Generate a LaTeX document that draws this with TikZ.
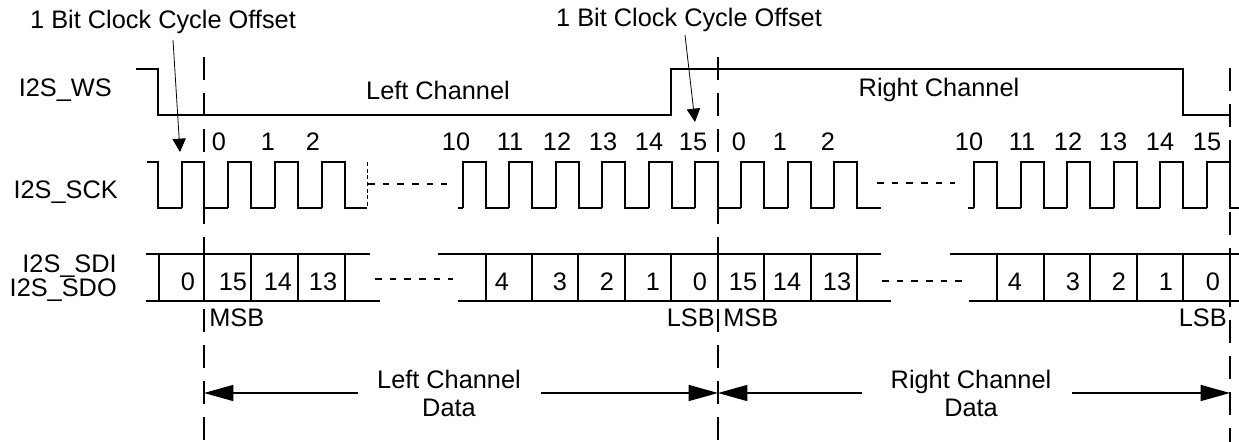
\documentclass[tikz,border=0pt]{standalone}
\usepackage{fontspec}
\setmainfont{Liberation Sans}
\usetikzlibrary{arrows.meta}

\begin{document}
\begin{tikzpicture}[x=0.75pt,y=0.75pt,yscale=-1,xscale=1,
  sig/.style={line width=1.4pt},
  guide/.style={line width=1.4pt, dash pattern=on 17pt off 10pt},
  gap/.style={line width=1.2pt, dash pattern=on 5pt off 6pt},
  txt/.style={font=\fontsize{19}{21}\selectfont, inner sep=0pt},
  dim/.style={line width=1pt, -{Triangle[length=22pt,width=12pt]}},
  offs/.style={line width=0.6pt, -{Triangle[length=10pt,width=10pt]}}]
\useasboundingbox (0,0) rectangle (1239,442);

% guide lines
\draw[guide] (204,57) -- (204,442);
\draw[guide] (718,57) -- (718,442);
\draw[guide] (1230,68) -- (1230,442);

% signal names
\node[txt, anchor=east] (ws) at (112,90) {I2S\_WS};
\node[txt, anchor=east] (sck) at (118,192) {I2S\_SCK};
\node[txt, anchor=east] (sdi) at (117,266) {I2S\_SDI};
\node[txt, anchor=east] (sdo) at (117,290) {I2S\_SDO};

% word select
\draw[sig] (136,69) -- (158,69) -- (158,115) -- (671,115) -- (671,69) -- (1183,69) -- (1183,115) -- (1230,115);
\node[txt] (lch) at (438,90) {Left Channel};
\node[txt] (rch) at (939,90) {Right Channel};

% bit clock, left part
\draw[sig] (147,162) -- (158,162) -- (158,208) -- (182,208);
\foreach \r/\f/\n in {182/204/228,228/251/275,275/298/322,322/345/367}
  \draw[sig] (\r,208) -- (\r,162) -- (\f,162) -- (\f,208) -- (\n,208);
\draw[line width=0.6pt, dash pattern=on 3pt off 2pt] (367,162) -- (367,208);
\draw[gap] (368,184) -- (447,184);

% bit clock, middle part
\draw[sig] (458,208) -- (463,208);
\foreach \k in {0,...,8}
  \draw[sig] ({463+46.4*\k},208) -- ++(0,-46) -- ++(23,0) -- ++(0,46) -- ++(23.4,0);
\draw[gap] (877,183) -- (955,183);

% bit clock, right part
\draw[sig] (968,208) -- (974,208);
\foreach \k in {0,...,5}
  \draw[sig] ({974+46.6*\k},208) -- ++(0,-46) -- ++(23,0) -- ++(0,46) -- ++(23.6,0);

% bit numbers
\foreach \x/\t [count=\i] in {219/0,268/1,313/2,456/10,510/11,557/12,603/13,649/14,693/15,
    739/0,780/1,828/2,969/10,1022/11,1068/12,1113/13,1160/14,1207/15}
  \node[txt] (ck\i) at (\x,142) {\t};

% data bus
\draw[sig] (146,254) -- (370,254);
\draw[sig] (146,301) -- (380,301);
\draw[sig] (438,254) -- (881,254);
\draw[sig] (458,301) -- (891,301);
\draw[sig] (950,254) -- (1239,254);
\draw[sig] (969,301) -- (1239,301);
\foreach \x in {159,204,251,298,345,486,532,578,625,671,718,764,811,857,997,1044,1090,1137,1183,1230}
  \draw[sig] (\x,254) -- (\x,301);
\draw[gap] (375,279) -- (453,279);
\draw[gap] (882,281) -- (962,281);

\foreach \x/\t [count=\i] in {188/0,233/15,278/14,323/13,502/4,560/3,607/2,653/1,700/0,
    743/15,787/14,837/13,1015/4,1073/3,1119/2,1166/1,1213/0}
  \node[txt] (dt\i) at (\x,282) {\t};

\node[txt, anchor=west] (msb1) at (209,318) {MSB};
\node[txt, anchor=east] (lsb1) at (715,318) {LSB};
\node[txt, anchor=west] (msb2) at (723,318) {MSB};
\node[txt, anchor=east] (lsb2) at (1227,318) {LSB};

% offset arrows
\node[txt] (offL) at (163,22) {1 Bit Clock Cycle Offset};
\node[txt] (offR) at (689,20) {1 Bit Clock Cycle Offset};
\coordinate (offLs) at (173,40);
\coordinate (offLe) at (180,152);
\coordinate (offRs) at (685,35);
\coordinate (offRe) at (695,122);
\draw[offs] (offLs) -- (offLe);
\draw[offs] (offRs) -- (offRe);

% channel data arrows
\coordinate (g1) at (204,393);
\coordinate (g2) at (718,393);
\coordinate (g3) at (1230,393);
\node[txt, align=center] (ldata) at (449,393) {Left Channel\\Data};
\node[txt, align=center] (rdata) at (971,393) {Right Channel\\Data};
\draw[dim] ([xshift=-14pt]ldata.west) -- (g1);
\draw[dim] ([xshift=15pt]ldata.east) -- (g2);
\draw[dim] ([xshift=-21pt]rdata.west) -- (g2);
\draw[dim] ([xshift=15pt]rdata.east) -- (g3);

\end{tikzpicture}
\end{document}
